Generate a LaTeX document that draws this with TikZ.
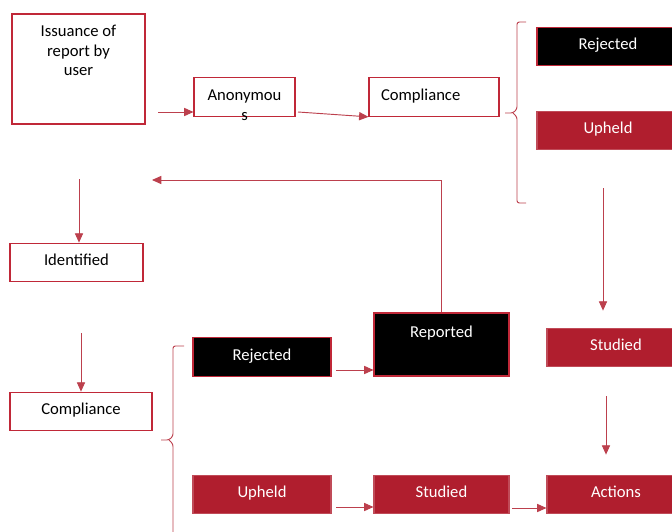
\documentclass[tikz,border=0pt]{standalone}
\usepackage{fontspec}
\setmainfont{Carlito}
\usetikzlibrary{arrows.meta,positioning}
\definecolor{brand}{RGB}{176,30,46}
\definecolor{edge}{RGB}{192,40,56}
\colorlet{linkred}{brand!85}
\tikzset{
  box/.style={draw=edge,line width=0.9pt,minimum height=1.16cm,inner sep=0pt,
    text height=10pt,text depth=4.6pt,
    font=\fontsize{14.2}{17}\selectfont,text=black},
  redbox/.style={box,fill=brand,draw=brand!80,text=white},
  darkbox/.style={box,fill=black,draw=edge,text=white},
  toptext/.style={anchor=north,inner sep=0pt,align=center,
    font=\fontsize{14.2}{17}\selectfont},
  arr/.style={draw=linkred,line width=0.8pt,-{Triangle[length=8pt,width=7pt]}},
  brace/.style={draw=linkred,line width=0.8pt,rounded corners=2pt}
}
\begin{document}
\begin{tikzpicture}[x=0.03cm,y=-0.03cm]
\useasboundingbox (0,0) rectangle (672,532);
% left column
\node[box,minimum width=3.99cm,minimum height=3.3cm,
  label={[toptext,text=black,yshift=-9.4pt]north:{Issuance of\\report by\\user}}] (iss) at (78.5,69) {};
\node[box,minimum width=3.99cm] (ident) at (76.5,262.5) {Identified};
\node[box,minimum width=4.26cm] (comp2) at (81,411.5) {Compliance};
% top row
\node[box,minimum width=3.03cm,
  label={[toptext,text=black,yshift=-10.3pt]north:{Anonymou\\s}}] (anon) at (244.5,97) {};
\node[box,minimum width=3.84cm,text width=3.18cm,align=left,inner xsep=0.36cm] (comp1) at (434,97) {Compliance};
\node[darkbox,minimum width=4.26cm] (rej1) at (608,46.5) {Rejected};
\node[redbox,minimum width=4.26cm] (uph1) at (608,130.5) {Upheld};
% lower part
\node[darkbox,minimum width=4.14cm] (rej2) at (262,357) {Rejected};
\node[darkbox,minimum width=4.05cm,minimum height=1.89cm,
  label={[toptext,text=white,yshift=-10.9pt]north:{Reported}}] (reported) at (441.5,344.5) {};
\node[redbox,minimum width=4.14cm] (studied1) at (616,347.5) {Studied};
\node[redbox,minimum width=4.14cm] (uph2) at (262,494.5) {Upheld};
\node[redbox,minimum width=4.05cm] (studied2) at (441.5,494.5) {Studied};
\node[redbox,minimum width=4.14cm] (actions) at (616,494.5) {Actions};
% braces
\draw[brace] (526,22) -| (517,109) -- (513,113) -- (505,113);
\draw[brace] (513,113) -- (517,117) |- (526,203);
\draw[brace] (184,346) -| (173,436) -- (169,440) -- (161,440);
\draw[brace] (169,440) -- (173,444) -- (173,545);
% connectors
\coordinate (a1) at (158,112);
\draw[arr] (a1) -- (a1 -| anon.west);
\coordinate (a2) at (298,112);
\draw[arr] (a2) -- (comp1.south west);
\coordinate (back) at (152,180);
\draw[arr] (reported.north) |- (back);
\coordinate (d1) at (79,179);
\draw[arr] (d1) -- (d1 |- ident.north);
\coordinate (d2) at (81,333);
\draw[arr] (d2) -- (d2 |- comp2.north);
\coordinate (a6) at (336,370);
\draw[arr] (a6) -- (a6 -| reported.west);
\coordinate (d3) at (603,188);
\draw[arr,shorten >=0.51cm] (d3) -- (d3 |- studied1.north);
\coordinate (d4) at (606,396);
\draw[arr,shorten >=0.6cm] (d4) -- (d4 |- actions.north);
\coordinate (a9) at (336,507);
\draw[arr] (a9) -- (a9 -| studied2.west);
\coordinate (a10) at (512,508);
\draw[arr] (a10) -- (a10 -| actions.west);
\end{tikzpicture}
\end{document}
